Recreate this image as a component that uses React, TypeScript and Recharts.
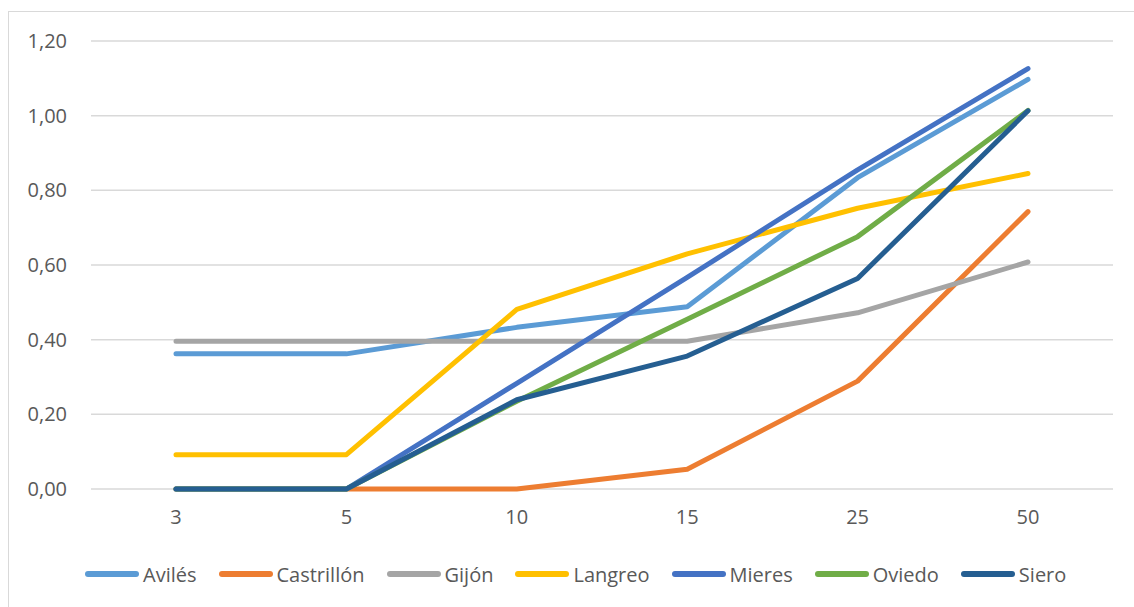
import React from 'react';
import { LineChart, Line, XAxis, YAxis, CartesianGrid, Legend } from 'recharts';

const categories = ['3', '5', '10', '15', '25', '50'];

const aviles = [0.362, 0.362, 0.433, 0.488, 0.834, 1.097];
const castrillon = [0, 0, 0, 0.053, 0.289, 0.743];
const gijon = [0.396, 0.396, 0.396, 0.396, 0.472, 0.608];
const langreo = [0.092, 0.092, 0.481, 0.63, 0.752, 0.845];
const mieres = [0, 0, 0.283, 0.567, 0.855, 1.126];
const oviedo = [0, 0, 0.235, 0.455, 0.676, 1.014];
const siero = [0, 0, 0.239, 0.356, 0.564, 1.013];

const yTicks = [0, 0.2, 0.4, 0.6, 0.8, 1.0, 1.2];

const series = [
    { key: 'Avilés', values: aviles, color: '#5B9BD5' },
    { key: 'Castrillón', values: castrillon, color: '#ED7D31' },
    { key: 'Gijón', values: gijon, color: '#A5A5A5' },
    { key: 'Langreo', values: langreo, color: '#FFC000' },
    { key: 'Mieres', values: mieres, color: '#4472C4' },
    { key: 'Oviedo', values: oviedo, color: '#70AD47' },
    { key: 'Siero', values: siero, color: '#255E91' },
];

const data = categories.map((c, i) => {
    const row: Record<string, string | number> = { cat: c };
    series.forEach((s) => { row[s.key] = s.values[i]; });
    return row;
});

const font = '"Open Sans", sans-serif';
const textColor = '#595959';

function LegendContent() {
    return (
        <div style={{ display: 'flex', justifyContent: 'flex-start', alignItems: 'center', height: 30, paddingLeft: 76, fontFamily: font, fontSize: 20, color: textColor }}>
            {series.map((s) => (
                <div key={s.key} style={{ display: 'flex', alignItems: 'center', marginRight: 22 }}>
                    <div style={{ width: 54, height: 6, borderRadius: 3, background: s.color, marginRight: 4 }} />
                    <span>{s.key}</span>
                </div>
            ))}
        </div>
    );
}

export default function App() {
    return (
        <div style={{ position: 'absolute', left: 8, top: 11, width: 1140, height: 610, border: '1px solid #d9d9d9', boxSizing: 'border-box', background: '#fff' }}>
            <LineChart width={1126} height={596} data={data} margin={{ top: 29, right: 22, left: 0, bottom: 19 }}>
                <CartesianGrid vertical={false} stroke="#d9d9d9" strokeWidth={1.5} />
                <XAxis
                    dataKey="cat"
                    height={70}
                    axisLine={false}
                    tickLine={false}
                    padding={{ left: 85, right: 85 }}
                    tick={{ fill: textColor, fontSize: 20, fontFamily: font }}
                    tickMargin={15}
                    interval={0}
                />
                <YAxis
                    width={82}
                    domain={[0, 1.2]}
                    ticks={yTicks}
                    axisLine={false}
                    tickLine={false}
                    tickMargin={18}
                    tick={{ fill: textColor, fontSize: 20, fontFamily: font }}
                    tickFormatter={(v: number) => v.toFixed(2).replace('.', ',')}
                />
                <Legend verticalAlign="bottom" content={<LegendContent />} wrapperStyle={{ height: 30 }} />
                {series.map((s) => (
                    <Line
                        key={s.key}
                        type="linear"
                        dataKey={s.key}
                        stroke={s.color}
                        strokeWidth={5}
                        strokeLinecap="round"
                        strokeLinejoin="round"
                        dot={false}
                        activeDot={false}
                        isAnimationActive={false}
                    />
                ))}
            </LineChart>
        </div>
    );
}
